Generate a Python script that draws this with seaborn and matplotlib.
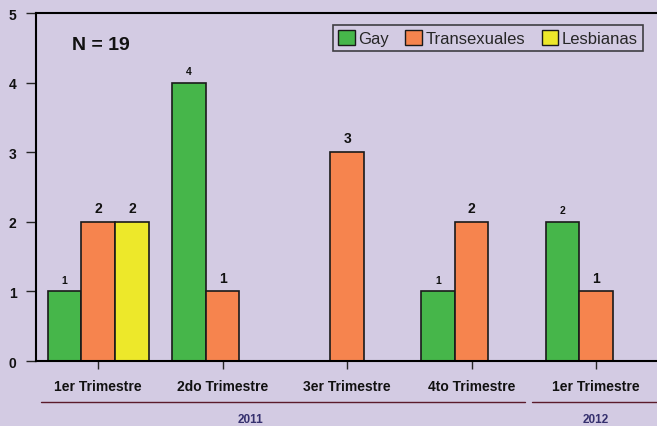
import matplotlib
matplotlib.use("Agg")
import matplotlib.pyplot as plt
import seaborn as sns
import pandas as pd
import numpy as np
from matplotlib.lines import Line2D

categories = ["1er Trimestre", "2do Trimestre", "3er Trimestre", "4to Trimestre", "1er Trimestre "]
series = ["Gay", "Transexuales", "Lesbianas"]
gay = [1, 4, np.nan, 1, 2]
trans = [2, 1, 3, 2, 1]
lesb = [2, np.nan, np.nan, np.nan, np.nan]
years = ["2011", "2012"]

colors = ["#46B64A", "#F6844E", "#EDE82A"]
bg = "#D3CBE3"

rows = []
for s, vals in zip(series, [gay, trans, lesb]):
    for c, v in zip(categories, vals):
        rows.append({"cat": c, "serie": s, "val": v})
df = pd.DataFrame(rows).dropna()

sns.set_style("white")
plt.rcParams["font.family"] = ["Liberation Sans", "DejaVu Sans"]

fig = plt.figure(figsize=(6.57, 4.27), dpi=100)
fig.patch.set_facecolor(bg)
ax = fig.add_axes([0.0548, 0.152, 0.947, 0.815])
ax.set_facecolor(bg)

sns.barplot(data=df, x="cat", y="val", hue="serie", order=categories,
            hue_order=series, palette=colors, width=0.81, dodge=True,
            edgecolor="#1a1a1a", linewidth=1.2, saturation=1, ax=ax)

for i, cont in enumerate(ax.containers):
    fs = 7.5 if i == 0 else 10
    labels = []
    for b in cont:
        h = b.get_height()
        labels.append("" if (h is None or np.isnan(h) or h == 0) else f"{int(h)}")
    ax.bar_label(cont, labels=labels, padding=5, fontsize=fs, fontweight="bold", color="#111111")

ax.set_ylim(0, 5)
ax.set_xlim(-0.5, len(categories) - 0.5)
ax.set_yticks(range(6))
ax.set_xlabel("")
ax.set_ylabel("")
ax.set_xticks(range(len(categories)))
ax.set_xticklabels([c.strip() for c in categories])
for lab in ax.get_xticklabels() + ax.get_yticklabels():
    lab.set_fontweight("bold")
    lab.set_fontsize(10)
    lab.set_color("#111111")
ax.tick_params(axis="x", length=6, width=1, direction="out", pad=7, bottom=True)
ax.tick_params(axis="y", length=7, width=1, direction="out", pad=7, left=True)

for sp in ["left", "bottom", "top"]:
    ax.spines[sp].set_visible(True)
    ax.spines[sp].set_color("black")
    ax.spines[sp].set_linewidth(1.5)
ax.spines["right"].set_visible(False)

ax.text(0.058, 0.91, "N = 19", transform=ax.transAxes, fontsize=14,
        fontweight="bold", ha="left", va="center", color="#111111")

handles = [plt.Rectangle((0, 0), 1, 1, facecolor=c, edgecolor="#1a1a1a", linewidth=1) for c in colors]
leg = ax.legend(handles, series, ncol=3, loc="upper right",
                bbox_to_anchor=(0.975, 0.965), frameon=True, fancybox=False,
                prop={"family": ["Liberation Sans Narrow", "Liberation Sans"], "size": 12},
                handlelength=1.0, handleheight=1.0, handletextpad=0.2,
                columnspacing=1.0, borderpad=0.3, borderaxespad=0)
leg.get_frame().set_edgecolor("#1a1a1a")
leg.get_frame().set_linewidth(1.2)
leg.get_frame().set_facecolor(bg)

line_y = 1 - 403 / 427
fig.add_artist(Line2D([41 / 657, 525 / 657], [line_y, line_y], color="#5a1a2a", linewidth=1))
fig.add_artist(Line2D([532 / 657, 1.0], [line_y, line_y], color="#5a1a2a", linewidth=1))
fig.text(251 / 657, 1 - 420 / 427, years[0], fontsize=8.5, fontweight="bold",
         color="#35306e", ha="center", va="center")
fig.text(596 / 657, 1 - 420 / 427, years[1], fontsize=8.5, fontweight="bold",
         color="#35306e", ha="center", va="center")

fig.savefig("out.png", dpi=100, facecolor=bg)
